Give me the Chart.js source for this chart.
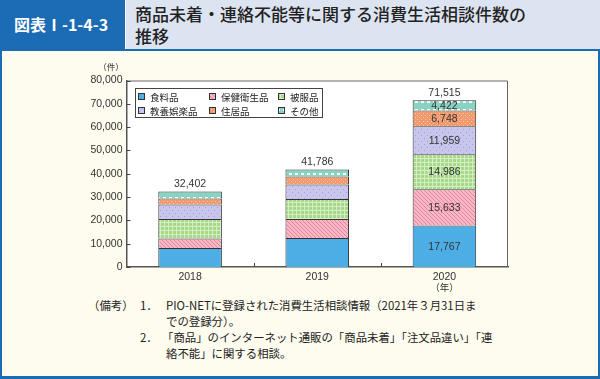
<!DOCTYPE html>
<html><head><meta charset="utf-8">
<script src="https://cdn.jsdelivr.net/npm/chart.js@4"></script>
<style>
html,body{margin:0;padding:0;}
body{width:600px;height:379px;position:relative;overflow:hidden;background:#FEFCEE;font-family:"Noto Sans CJK JP",sans-serif;color:#222;}
.a{position:absolute;white-space:nowrap;}
#hl{left:0;top:0;width:125px;height:49px;background:#1B6BB5;color:#fff;font-weight:700;font-size:16px;line-height:49px;padding-left:14px;box-sizing:border-box;}
#hr{left:126px;top:0;width:474px;height:49px;background:#DDE4F1;}
#hline{left:0;top:49px;width:600px;height:2px;background:#1B6BB5;}
#bl{left:0;top:49px;width:2px;height:330px;background:#1B6BB5;}
#br{left:598px;top:49px;width:2px;height:330px;background:#1B6BB5;}
#bb{left:0;top:376px;width:600px;height:3px;background:#1B6BB5;}
.t{font-size:17px;font-weight:500;color:#222;line-height:22px;left:135px;}
.n{font-size:11.4px;line-height:16px;color:#222;}
#cv{position:absolute;left:0;top:50px;}
</style></head>
<body>
<div class="a" id="hl">図表Ⅰ-1-4-3</div>
<div class="a" id="hr"></div>
<div class="a t" style="top:3px">商品未着・連絡不能等に関する消費生活相談件数の</div>
<div class="a t" style="top:25px">推移</div>
<div class="a" id="hline"></div>
<div class="a" id="bl"></div>
<div class="a" id="br"></div>
<div class="a" id="bb"></div>
<canvas id="cv" width="600" height="246"></canvas>
<div class="a n" style="left:88px;top:297px">（備考）</div>
<div class="a n" style="left:140px;top:297px">1．</div>
<div class="a n" style="left:166px;top:297px">PIO-NETに登録された消費生活相談情報（2021年３月31日ま</div>
<div class="a n" style="left:166px;top:313px">での登録分）。</div>
<div class="a n" style="left:140px;top:329px">2．</div>
<div class="a n" style="left:162px;top:329px">「商品」のインターネット通販の「商品未着」「注文品違い」「連</div>
<div class="a n" style="left:166px;top:345px">絡不能」に関する相談。</div>
<script>
const categories = ['2018', '2019', '2020'];
const seriesNames = ['食料品', '保健衛生品', '被服品', '教養娯楽品', '住居品', 'その他'];
const food = [8140, 12430, 17767];
const health = [4120, 8140, 15633];
const clothes = [8310, 8570, 14986];
const culture = [6260, 6260, 11959];
const housing = [2570, 3430, 6748];
const others = [3002, 2956, 4422];
const totals = [32402, 41786, 71515];
const yTicks = [0, 10000, 20000, 30000, 40000, 50000, 60000, 70000, 80000];

function pat(w, h, bg, draw) {
  const c = document.createElement('canvas'); c.width = w; c.height = h;
  const g = c.getContext('2d'); g.fillStyle = bg; g.fillRect(0, 0, w, h);
  draw(g); return g.createPattern(c, 'repeat');
}
const fills = [
  '#4DAEE5',
  pat(4, 4, '#F7B9C6', g => { g.fillStyle = '#EA8097'; for (let i = 0; i < 4; i++) g.fillRect(i, i, 1, 1); }),
  pat(4, 4, '#A6D989', g => { g.fillStyle = '#D6EEC6'; g.fillRect(0, 0, 4, 1); g.fillRect(0, 0, 1, 4); }),
  pat(6, 6, '#C8C6EC', g => { g.fillStyle = '#A09CDA'; g.fillRect(1, 1, 1, 1); g.fillRect(4, 4, 1, 1); }),
  pat(4, 4, '#F29A6E', g => { g.fillStyle = '#F9C6A8'; g.fillRect(1, 1, 1, 1); g.fillRect(3, 3, 1, 1); }),
  pat(6, 8, '#88D3C1', g => { g.fillStyle = '#ffffff'; g.fillRect(1, 3, 3, 2); })
];
const seriesData = [food, health, clothes, culture, housing, others];

const bgPlugin = {
  id: 'bg',
  beforeDraw(chart) {
    const { ctx, chartArea: a } = chart;
    ctx.save(); ctx.fillStyle = '#fff'; ctx.fillRect(a.left, a.top, a.right - a.left, a.bottom - a.top); ctx.restore();
  },
  afterDraw(chart) {
    const { ctx, chartArea: a } = chart;
    const ys = chart.scales.y, xs = chart.scales.x;
    ctx.save();
    ctx.strokeStyle = '#666'; ctx.lineWidth = 1;
    ctx.beginPath(); ctx.moveTo(a.left, a.top + 0.5); ctx.lineTo(a.right - 0.5, a.top + 0.5); ctx.lineTo(a.right - 0.5, a.bottom); ctx.stroke();
    ctx.strokeStyle = '#444'; ctx.lineWidth = 1;
    yTicks.forEach(v => { const y = Math.round(ys.getPixelForValue(v)) + 0.5; ctx.beginPath(); ctx.moveTo(a.left, y); ctx.lineTo(a.left + 4, y); ctx.stroke(); });
    for (let i = 1; i < categories.length; i++) {
      const x = Math.round((xs.getPixelForValue(i - 1) + xs.getPixelForValue(i)) / 2) + 0.5;
      ctx.beginPath(); ctx.moveTo(x, a.bottom); ctx.lineTo(x, a.bottom - 4); ctx.stroke();
    }
    ctx.fillStyle = '#333'; ctx.font = '8.5px "Noto Sans CJK JP"'; ctx.textAlign = 'center'; ctx.textBaseline = 'middle';
    ctx.fillText('（件）', 111, 17);
    ctx.font = '9.5px "Noto Sans CJK JP"';
    ctx.fillText('（年）', xs.getPixelForValue(categories.length - 1), 237);
    ctx.font = '10.5px "Liberation Sans"'; ctx.fillStyle = '#333';
    const lastMeta = chart.getDatasetMeta(seriesData.length - 1);
    totals.forEach((t, i) => { const el = lastMeta.data[i]; ctx.fillText(t.toLocaleString('en-US'), el.x, el.y - 7); });
    const li = categories.length - 1;
    seriesData.forEach((arr, d) => {
      const el = chart.getDatasetMeta(d).data[li];
      ctx.fillText(arr[li].toLocaleString('en-US'), el.x, (el.y + el.base) / 2 + 0.5);
    });
    const L = 135, T = 38, R = 322, B = 67;
    ctx.fillStyle = '#fff'; ctx.fillRect(L, T, R - L, B - T);
    ctx.strokeStyle = '#444'; ctx.strokeRect(L + 0.5, T + 0.5, R - L, B - T);
    const cols = [138, 209, 278], rows = [47, 61];
    ctx.font = '9.5px "Noto Sans CJK JP"'; ctx.textAlign = 'left';
    chart.data.datasets.forEach((ds, i) => {
      const x = cols[i % 3], y = rows[Math.floor(i / 3)];
      ctx.fillStyle = ds.backgroundColor; ctx.fillRect(x, y - 4, 7, 7);
      ctx.strokeStyle = '#333'; ctx.strokeRect(x + 0.5, y - 3.5, 6, 6);
      ctx.fillStyle = '#222'; ctx.fillText(ds.label, x + 12, y);
    });
    ctx.restore();
  }
};

new Chart(document.getElementById('cv'), {
  type: 'bar',
  data: {
    labels: categories,
    datasets: seriesData.map((arr, i) => ({
      label: seriesNames[i], data: arr, backgroundColor: fills[i],
      borderColor: '#333', borderWidth: { top: 1, left: 1, right: 1, bottom: 0 }, borderSkipped: false,
      barPercentage: 0.5, categoryPercentage: 1
    }))
  },
  options: {
    responsive: false, animation: false, devicePixelRatio: 1,
    layout: { padding: { left: 0, right: 92, top: 30.5, bottom: 0 } },
    plugins: { legend: { display: false }, tooltip: { enabled: false } },
    scales: {
      x: {
        stacked: true,
        grid: { display: false, drawTicks: false, tickLength: 0 },
        border: { display: true, color: '#555', width: 1.5 },
        ticks: { color: '#333', font: { family: 'Liberation Sans', size: 10.5 }, padding: 4, maxRotation: 0 },
        afterFit(s) { s.height = 29; }
      },
      y: {
        stacked: true, min: 0, max: 80000,
        afterBuildTicks(s) { s.ticks = yTicks.map(v => ({ value: v })); },
        grid: { display: false, drawTicks: false, tickLength: 0 },
        border: { display: true, color: '#555', width: 1.5 },
        ticks: { color: '#333', font: { family: 'Liberation Sans', size: 10.5 }, padding: 4,
          callback: v => v.toLocaleString('en-US') },
        afterFit(s) { s.width = 126.5; }
      }
    }
  },
  plugins: [bgPlugin]
});
</script>
</body></html>
